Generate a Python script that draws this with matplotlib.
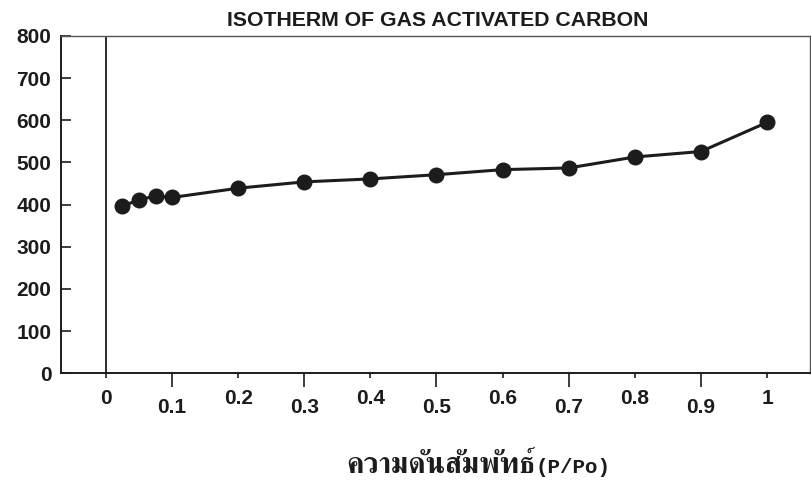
import matplotlib
matplotlib.use("Agg")
import matplotlib.pyplot as plt
from matplotlib import font_manager
from matplotlib.ft2font import FT2Font

# Relative pressure (P/Po) and adsorbed amount
pressure = [0.025, 0.05, 0.075, 0.1, 0.2, 0.3, 0.4, 0.5, 0.6, 0.7, 0.8, 0.9, 1.0]
adsorbed = [396, 412, 420, 417, 439, 454, 461, 471, 483, 487, 513, 526, 595]

even_ticks = [0, 0.2, 0.4, 0.6, 0.8, 1.0]
even_labels = ["0", "0.2", "0.4", "0.6", "0.8", "1"]
odd_ticks = [0.1, 0.3, 0.5, 0.7, 0.9]
odd_labels = ["0.1", "0.3", "0.5", "0.7", "0.9"]
y_ticks = [0, 100, 200, 300, 400, 500, 600, 700, 800]

title = "ISOTHERM OF GAS ACTIVATED CARBON"
xlabel_thai = "ความดันสัมพัทธ์"
xlabel_ratio = "(P/Po)"


def find_family(codepoint, prefer=()):
    """Return an installed family that has a glyph for codepoint."""
    found = []
    for f in font_manager.fontManager.ttflist:
        try:
            if codepoint in FT2Font(f.fname).get_charmap():
                found.append(f.name)
        except Exception:
            pass
    for p in prefer:
        for name in found:
            if p.lower() in name.lower():
                return name
    return found[0] if found else "DejaVu Sans"


def has_family(name):
    return any(f.name == name for f in font_manager.fontManager.ttflist)


thai_family = find_family(0x0E04, prefer=("Serif", "Thai"))
title_family = "Liberation Sans Narrow" if has_family("Liberation Sans Narrow") else "Liberation Sans"
title_size = 17.5 if title_family == "Liberation Sans Narrow" else 15.3

plt.rcParams["font.family"] = ["Liberation Sans", "DejaVu Sans"]

fig = plt.figure(figsize=(8.11, 4.97), dpi=100)
ax = fig.add_axes([0.0752, 0.2489, 0.9236, 0.6787])

ax.plot(pressure, adsorbed, color="#1c1c1c", lw=2.2, marker="o",
        markersize=10.5, markerfacecolor="#1c1c1c", markeredgecolor="#1c1c1c",
        zorder=3)

ax.axvline(0, color="#1c1c1c", lw=1.3, zorder=2)

ax.set_xlim(-0.068, 1.065)
ax.set_ylim(0, 800)

# alternate short (labels high) and long (labels low) x ticks
ax.set_xticks(even_ticks)
ax.set_xticklabels(even_labels)
ax.set_xticks(odd_ticks, minor=True)
ax.set_xticklabels(odd_labels, minor=True)
ax.tick_params(axis="x", which="major", direction="out", length=3.5, width=1.2,
               pad=7.5, labelsize=15, colors="#1c1c1c")
ax.tick_params(axis="x", which="minor", direction="out", length=10, width=1.2,
               pad=8, labelsize=15, colors="#1c1c1c")
for lab in ax.get_xticklabels(which="both"):
    lab.set_fontweight("bold")
    lab.set_va("top")

ax.set_yticks(y_ticks)
ax.tick_params(axis="y", direction="in", length=7.5, width=1.2, pad=7,
               labelsize=15, colors="#1c1c1c")
for lab in ax.get_yticklabels():
    lab.set_fontweight("bold")

for side in ("left", "bottom"):
    ax.spines[side].set_linewidth(1.4)
    ax.spines[side].set_color("#1c1c1c")
for side in ("top", "right"):
    ax.spines[side].set_linewidth(1.0)
    ax.spines[side].set_color("#555555")

ax.set_title(title, family=title_family, fontweight="bold", fontsize=title_size,
             color="#1c1c1c", pad=7, x=0.503)

# x-axis caption: Thai words followed by the ratio in a typewriter face,
# both sitting on one baseline
label_split_x = 0.633
label_baseline_y = -0.296
ax.text(label_split_x, label_baseline_y, xlabel_thai, transform=ax.transAxes,
        ha="right", va="baseline", family=[thai_family, "DejaVu Sans"],
        fontsize=21, fontweight="bold", color="#1c1c1c")
ax.text(label_split_x, label_baseline_y, xlabel_ratio, transform=ax.transAxes,
        ha="left", va="baseline", family="Liberation Mono", fontsize=15,
        fontweight="bold", color="#1c1c1c")

fig.savefig("out.png", dpi=100)
